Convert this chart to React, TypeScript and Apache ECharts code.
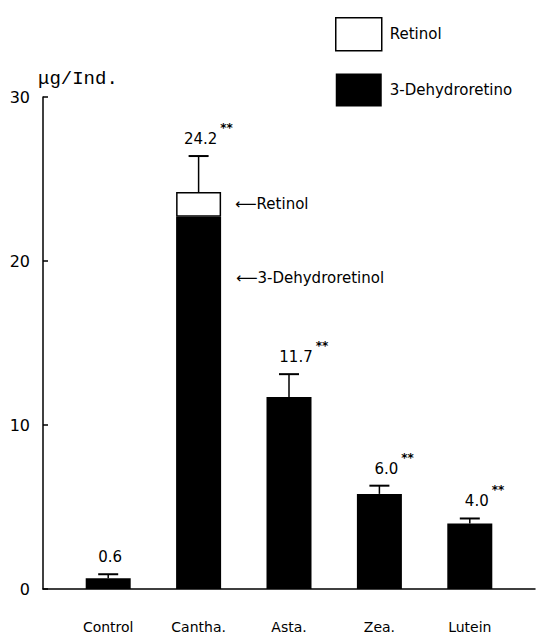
import React, { useEffect, useRef } from "react";
import * as echarts from "echarts";

const categories = ["Control", "Cantha.", "Asta.", "Zea.", "Lutein"];
const dehydroValues = [0.65, 22.7, 11.7, 5.8, 4.0];
const retinolValues: (number | null)[] = [null, 1.5, null, null, null];
const errorTops = [0.9, 26.4, 13.1, 6.3, 4.3];
const valueLabels = ["0.6", "24.2", "11.7", "6.0", "4.0"];
const starLabels = ["", "**", "**", "**", "**"];
const yTicks = { min: 0, max: 30, interval: 10 };

const FONT = "DejaVu Sans";

function textWidth(s: string, size: number) {
  let w = 0;
  for (const ch of s) w += ch === "." ? size * 0.318 : size * 0.636;
  return w;
}

export default function App() {
  const ref = useRef<HTMLDivElement>(null);
  useEffect(() => {
    if (!ref.current) return;
    const chart = echarts.init(ref.current, null, { renderer: "svg" });
    const totals = dehydroValues.map((d, i) => d + (retinolValues[i] ?? 0));
    chart.setOption({
      animation: false,
      backgroundColor: "#fff",
      title: {
        text: "\u03bcg/Ind.",
        left: 33,
        top: 64,
        textStyle: { fontFamily: "Liberation Mono", fontSize: 19, fontWeight: "normal", color: "#000" },
      },
      legend: {
        orient: "vertical",
        left: 330,
        top: 12,
        itemWidth: 46,
        itemHeight: 33,
        itemGap: 22,
        selectedMode: false,
        textStyle: { fontFamily: FONT, fontSize: 15, color: "#000", padding: [0, 0, 0, 3] },
        data: [
          { name: "Retinol", icon: "rect", itemStyle: { color: "#fff", borderColor: "#000", borderWidth: 1.5 } },
          { name: "3-Dehydroretino", icon: "rect", itemStyle: { color: "#000", borderWidth: 0 } },
        ],
      },
      grid: [
        { left: 63, right: 21, top: 97, bottom: 49 },
        { left: 43, right: 1, top: 97, bottom: 49 },
      ],
      xAxis: [
        {
          type: "category",
          gridIndex: 0,
          data: categories,
          axisLine: { show: false },
          axisTick: { show: false },
          axisLabel: { margin: 31, fontFamily: FONT, fontSize: 14, color: "#000" },
        },
        {
          type: "value",
          gridIndex: 1,
          min: 0,
          max: 1,
          axisLine: { show: true, lineStyle: { color: "#000", width: 1.5 } },
          axisTick: { show: false },
          axisLabel: { show: false },
          splitLine: { show: false },
        },
      ],
      yAxis: [
        {
          type: "value",
          gridIndex: 0,
          min: yTicks.min,
          max: yTicks.max,
          interval: yTicks.interval,
          show: false,
          splitLine: { show: false },
        },
        {
          type: "value",
          gridIndex: 1,
          min: yTicks.min,
          max: yTicks.max,
          interval: yTicks.interval,
          axisLine: { show: true, lineStyle: { color: "#000", width: 1.5 } },
          axisTick: { show: true, inside: true, length: 5, lineStyle: { color: "#000", width: 1.5 } },
          axisLabel: { margin: 13, fontFamily: FONT, fontSize: 16, color: "#000" },
          splitLine: { show: false },
        },
      ],
      series: [
        {
          name: "3-Dehydroretino",
          type: "bar",
          stack: "a",
          xAxisIndex: 0,
          yAxisIndex: 0,
          barWidth: 45,
          itemStyle: { color: "#000" },
          data: dehydroValues,
        },
        {
          name: "Retinol",
          type: "bar",
          stack: "a",
          xAxisIndex: 0,
          yAxisIndex: 0,
          barWidth: 45,
          itemStyle: { color: "#fff", borderColor: "#000", borderWidth: 1.5 },
          label: {
            show: true,
            position: "right",
            distance: 14,
            formatter: (p: any) => (p.value ? "\u27f5Retinol" : ""),
            fontFamily: FONT,
            fontSize: 15,
            color: "#000",
          },
          data: retinolValues,
        },
        {
          type: "custom",
          xAxisIndex: 0,
          yAxisIndex: 0,
          silent: true,
          data: categories.map((_, i) => [i, totals[i], errorTops[i]]),
          renderItem: (params: any, api: any) => {
            const i = params.dataIndex;
            const base = api.coord([api.value(0), api.value(1)]);
            const top = api.coord([api.value(0), api.value(2)]);
            const x = base[0];
            const cap = 10;
            const lx = x + 2 + (i > 1 ? 5 : 0);
            const half = textWidth(valueLabels[i], 15) / 2;
            const children: any[] = [
              { type: "line", shape: { x1: x, y1: base[1], x2: x, y2: top[1] }, style: { stroke: "#000", lineWidth: 1.5 } },
              { type: "line", shape: { x1: x - cap, y1: top[1], x2: x + cap, y2: top[1] }, style: { stroke: "#000", lineWidth: 2 } },
              {
                type: "text",
                style: {
                  text: valueLabels[i],
                  x: lx,
                  y: top[1] - 17,
                  align: "center",
                  verticalAlign: "middle",
                  fontFamily: FONT,
                  fontSize: 15,
                  fill: "#000",
                },
              },
            ];
            if (starLabels[i]) {
              children.push({
                type: "text",
                style: {
                  text: starLabels[i],
                  x: lx + half + 3,
                  y: top[1] - 28,
                  align: "left",
                  verticalAlign: "middle",
                  fontFamily: FONT,
                  fontSize: 12,
                  fontWeight: "bold",
                  fill: "#000",
                },
              });
            }
            return { type: "group", children };
          },
        },
      ],
      graphic: [
        {
          type: "text",
          left: 236,
          top: 270,
          style: { text: "\u27f53-Dehydroretinol", fontFamily: FONT, fontSize: 15, fill: "#000" },
        },
      ],
    });
    return () => chart.dispose();
  }, []);
  return <div ref={ref} style={{ width: 536, height: 638, position: "absolute", left: 0, top: 0 }} />;
}
